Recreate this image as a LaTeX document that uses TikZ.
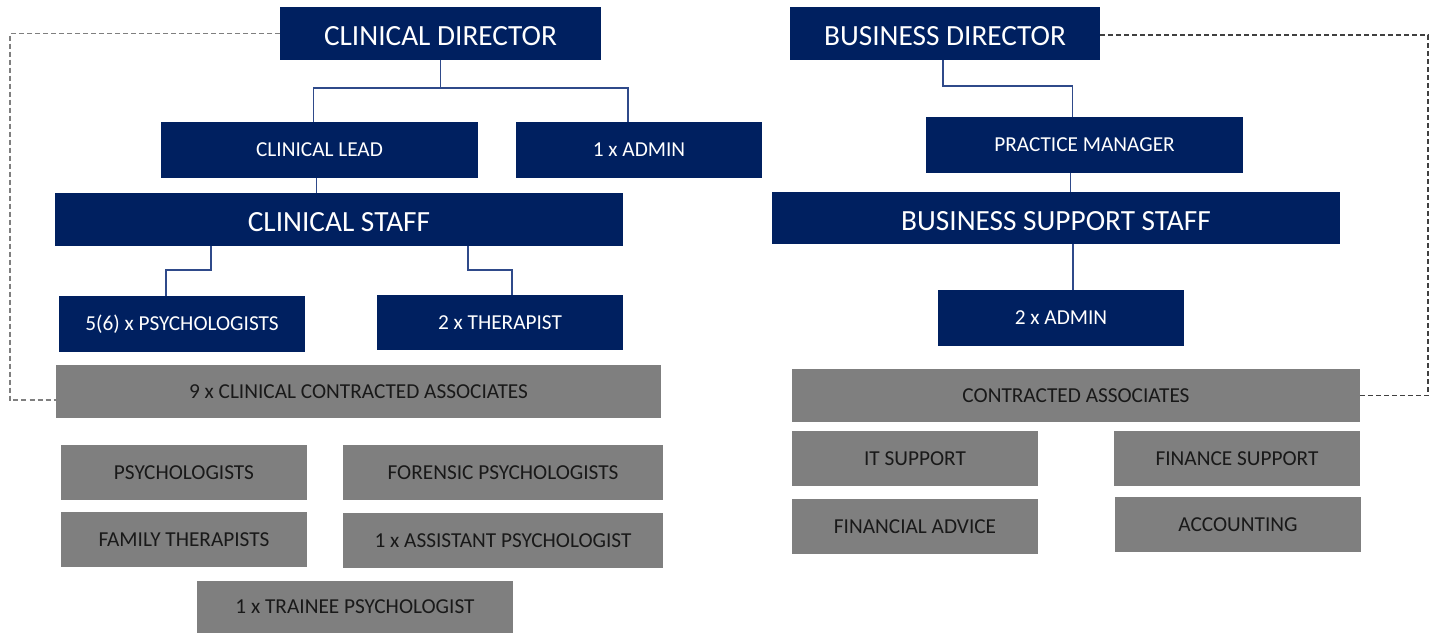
\documentclass[tikz,border=0pt]{standalone}
\usepackage{fontspec}
\setmainfont{Carlito}
\usetikzlibrary{positioning}
\definecolor{navy}{HTML}{002060}
\definecolor{midgrey}{HTML}{7F7F7F}
\definecolor{lineblue}{HTML}{2F4A8A}
\tikzset{%
	navybox/.style  = {rectangle, fill=navy, text=white, inner sep=0pt, outer sep=0pt, minimum width=246pt, minimum height=55pt, text centered, font=\fontsize{21.3}{25}\selectfont},
	bignavy/.style  = {navybox, minimum height=53pt, text height=24.5pt, text depth=0pt, font=\fontsize{29.3}{34}\selectfont},
	greybox/.style  = {rectangle, fill=midgrey, text=black!90, inner sep=0pt, outer sep=0pt, minimum width=246pt, minimum height=55pt, text centered, font=\fontsize{21.3}{25}\selectfont},
	link/.style     = {draw=lineblue, line width=1.2pt},
	dashlink/.style = {dash pattern=on 5pt off 3pt, line width=1.3pt},
}

\begin{document}
\begin{tikzpicture}[x=1pt,y=-1pt]
		\useasboundingbox (0,0) rectangle (1434,633);
		
		% clinical side
		\node[bignavy, minimum width=321pt] (cdir) at (440.5,33.5) {CLINICAL DIRECTOR};
		\node[navybox, minimum width=317pt, minimum height=56pt] (clead) at (319.5,150) {CLINICAL LEAD};
		\node[navybox, minimum height=56pt] (cadmin) at (639,150) {1 x ADMIN};
		\node[bignavy, minimum width=568pt] (cstaff) at (339,219.5) {CLINICAL STAFF};
		\node[navybox, minimum height=56pt] (psych) at (182,324) {5(6) x PSYCHOLOGISTS};
		\node[navybox] (ther) at (500,322.5) {2 x THERAPIST};
		\node[greybox, minimum width=605pt, minimum height=53pt] (ccassoc) at (358.5,391.5) {9 x CLINICAL CONTRACTED ASSOCIATES};
		\node[greybox] (gpsych) at (184,472.5) {PSYCHOLOGISTS};
		\node[greybox, minimum width=320pt] (forensic) at (503,472.5) {FORENSIC PSYCHOLOGISTS};
		\node[greybox] (family) at (184,539.5) {FAMILY THERAPISTS};
		\node[greybox, minimum width=320pt] (assist) at (503,540.5) {1 x ASSISTANT PSYCHOLOGIST};
		\node[greybox, minimum width=316pt, minimum height=52pt] (trainee) at (355,607) {1 x TRAINEE PSYCHOLOGIST};
		
		\draw[link] (cdir.south) -- ++(0,28) -| ([xshift=-6pt]clead.north);
		\draw[link] (cdir.south) ++(0,28) -| ([xshift=-11pt]cadmin.north);
		\draw[link] ([xshift=-3pt]clead.south) -- ([xshift=-3pt]clead.south |- cstaff.north);
		\draw[link] ([xshift=-128pt]cstaff.south) -- ++(0,24) -| ([xshift=-16pt]psych.north);
		\draw[link] ([xshift=129pt]cstaff.south) -- ++(0,24) -| ([xshift=12pt]ther.north);
		
		% business side
		\node[bignavy, minimum width=310pt] (bdir) at (945,33.5) {BUSINESS DIRECTOR};
		\node[navybox, minimum width=317pt, minimum height=56pt] (pman) at (1084.5,145) {PRACTICE MANAGER};
		\node[bignavy, minimum width=568pt, minimum height=52pt] (bstaff) at (1056,218) {BUSINESS SUPPORT STAFF};
		\node[navybox, minimum height=56pt] (badmin) at (1061,318) {2 x ADMIN};
		\node[greybox, minimum width=568pt, minimum height=53pt] (cassoc) at (1076,395.5) {CONTRACTED ASSOCIATES};
		\node[greybox] (itsup) at (915,458.5) {IT SUPPORT};
		\node[greybox] (finsup) at (1237,458.5) {FINANCE SUPPORT};
		\node[greybox] (finadv) at (915,526.5) {FINANCIAL ADVICE};
		\node[greybox] (account) at (1238,524.5) {ACCOUNTING};
		
		\draw[link] ([xshift=-2pt]bdir.south) -- ++(0,26) -| ([xshift=-12pt]pman.north);
		\draw[link] ([xshift=-14pt]pman.south) -- ([xshift=-14pt]pman.south |- bstaff.north);
		\draw[link] ([xshift=17pt]bstaff.south) -- ([xshift=12pt]badmin.north);
		
		% dashed links to associates
		\coordinate (lcorner) at (10,33.5);
		\coordinate (rcorner) at (1428,35);
		\draw[dashlink, midgrey] (cdir.west) -- (lcorner) |- ([yshift=-8.5pt]ccassoc.west);
		\draw[dashlink, black!75] ([yshift=-1.5pt]bdir.east) -- (rcorner) |- (cassoc.east);
		
\end{tikzpicture}
\end{document}
